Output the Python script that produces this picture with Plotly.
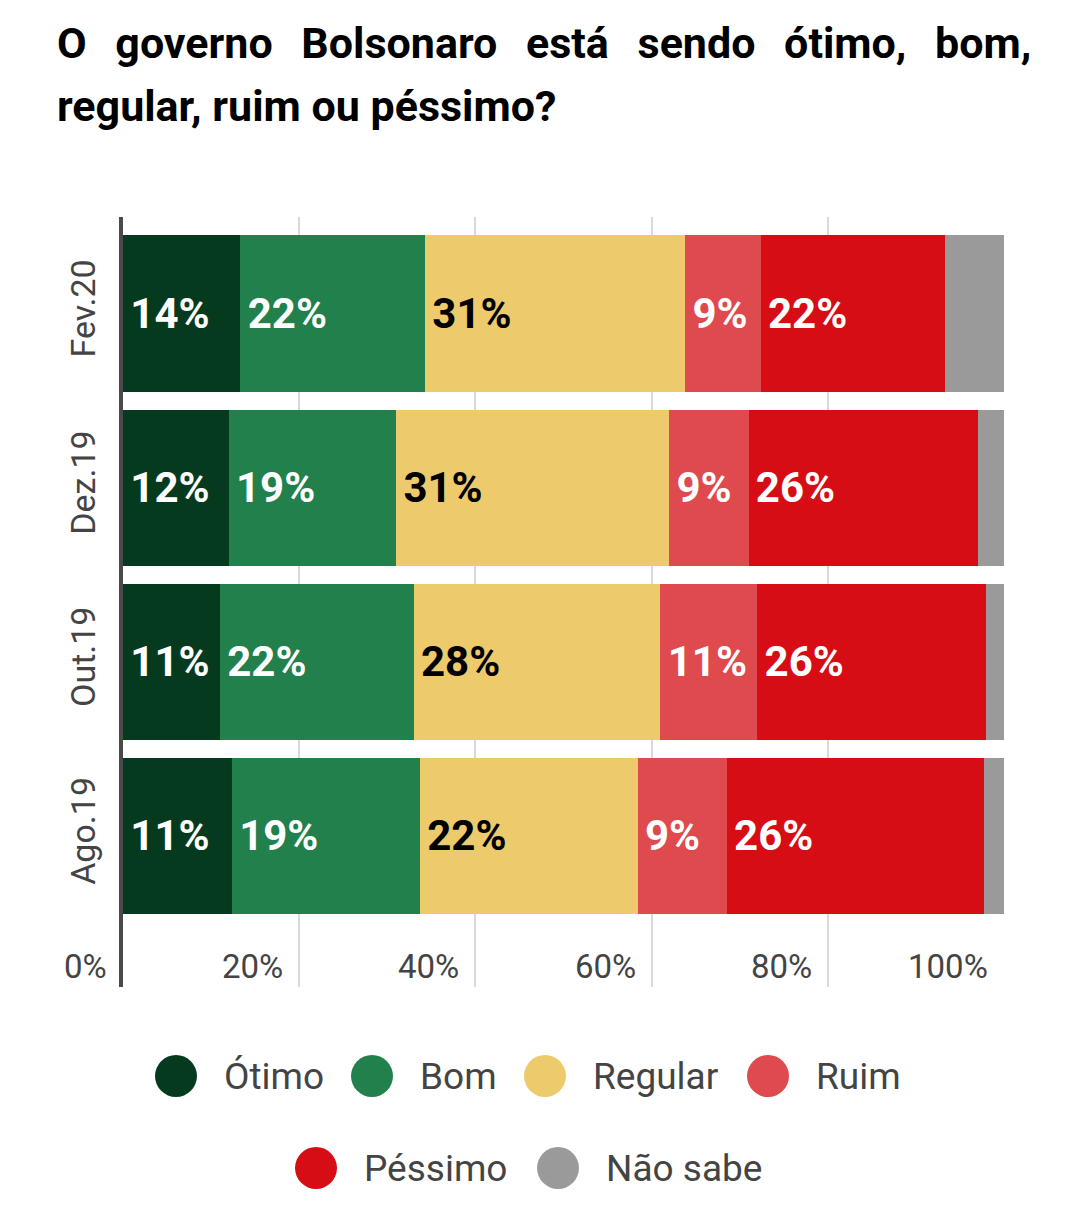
import plotly.graph_objects as go

# survey waves, listed top to bottom as in the chart
periods = ["Fev.20", "Dez.19", "Out.19", "Ago.19"]

# answers in %, same order as periods
otimo = [14, 12, 11, 11]
bom = [22, 19, 22, 19]
regular = [31, 31, 28, 22]
ruim = [9, 9, 11, 9]
pessimo = [22, 26, 26, 26]
nao_sabe = [7, 3, 2, 2]

series_names = ["Ótimo", "Bom", "Regular", "Ruim", "Péssimo", "Não sabe"]
x_ticks = [0, 20, 40, 60, 80, 100]

series_values = [otimo, bom, regular, ruim, pessimo, nao_sabe]
colors = ["#053a1f", "#21804b", "#edca6b", "#de4a4d", "#d60d14", "#9a9a9a"]
label_colors = ["white", "white", "black", "white", "white", "white"]

# the page body adds an 8px margin, so the figure is a bit smaller
OFF = 8
W, H = 1080 - OFF, 1213 - OFF
L, R, T, B = 115, 76, 209, 226
PW = W - L - R
PH = H - T - B
FONT = "Roboto"


def px_x(px):
    # screen pixel -> paper x
    return (px - OFF - L) / PW


def px_y(py):
    # screen pixel -> paper y
    return (H - B - (py - OFF)) / PH


fig = go.Figure()

for i, (name, vals) in enumerate(zip(series_names, series_values)):
    show_text = name != "Não sabe"
    fig.add_trace(go.Bar(
        y=periods,
        x=vals,
        name=name,
        orientation="h",
        marker=dict(color=colors[i], line=dict(width=0)),
        text=[f"\u200a{v}%" for v in vals] if show_text else None,
        textposition="inside" if show_text else "none",
        insidetextanchor="start",
        textfont=dict(family=FONT, size=42, weight="bold", color=label_colors[i]),
        showlegend=False,
        hoverinfo="skip",
    ))

annotations = []

# title, justified by hand
line1 = ["O", "governo", "Bolsonaro", "está", "sendo", "ótimo,", "bom,"]
annotations.append(dict(
    text="\u00a0\u00a0\u2006".join(line1), xref="paper", yref="paper",
    x=px_x(55), y=px_y(43), xanchor="left", yanchor="middle", showarrow=False,
    font=dict(family=FONT, size=43, weight="bold", color="#000000"),
))
annotations.append(dict(
    text="regular, ruim ou péssimo?", xref="paper", yref="paper",
    x=px_x(55), y=px_y(106), xanchor="left", yanchor="middle", showarrow=False,
    font=dict(family=FONT, size=43, weight="bold", color="#000000"),
))

# x tick labels sit left of their grid line, inside the grid area
for v in x_ticks:
    annotations.append(dict(
        text=f"{v}%", x=v, xref="x", y=px_y(966), yref="paper",
        xanchor="right", yanchor="middle", xshift=-14, showarrow=False,
        font=dict(family=FONT, size=33, color="#444444"),
    ))

# legend with big round swatches
shapes = []
legend_rows = [(1076, [176, 372, 545, 768]), (1168, [316, 558])]
k = 0
for row_y, xs in legend_rows:
    for cx in xs:
        shapes.append(dict(
            type="circle", xref="paper", yref="paper",
            xsizemode="pixel", ysizemode="pixel",
            xanchor=px_x(cx), yanchor=px_y(row_y),
            x0=-21, x1=21, y0=-21, y1=21,
            fillcolor=colors[k], line=dict(width=0),
        ))
        annotations.append(dict(
            text=series_names[k], xref="paper", yref="paper",
            x=px_x(cx + 46), y=px_y(row_y), xanchor="left", yanchor="middle",
            showarrow=False, font=dict(family=FONT, size=37, color="#444444"),
        ))
        k += 1

fig.update_layout(
    width=W, height=H,
    margin=dict(l=L, r=R, t=T, b=B),
    barmode="stack",
    barnorm="percent",
    bargap=0.104,
    plot_bgcolor="white",
    paper_bgcolor="white",
    font=dict(family=FONT, color="#444444"),
    uniformtext=dict(minsize=42, mode="show"),
    annotations=annotations,
    shapes=shapes,
    xaxis=dict(
        range=[0, 100],
        tickvals=x_ticks[1:],
        showticklabels=False,
        showgrid=True, gridcolor="#d9d9d9", gridwidth=2,
        zeroline=False, showline=False, fixedrange=True,
    ),
    yaxis=dict(
        range=[3.867, -0.554],
        tickangle=-90,
        tickfont=dict(family=FONT, size=34, color="#444444"),
        ticks="outside", ticklen=10, tickcolor="rgba(0,0,0,0)",
        showline=True, linecolor="#4a4a4a", linewidth=4,
        showgrid=False, zeroline=False, fixedrange=True,
    ),
)

fig.write_html("out.html")
